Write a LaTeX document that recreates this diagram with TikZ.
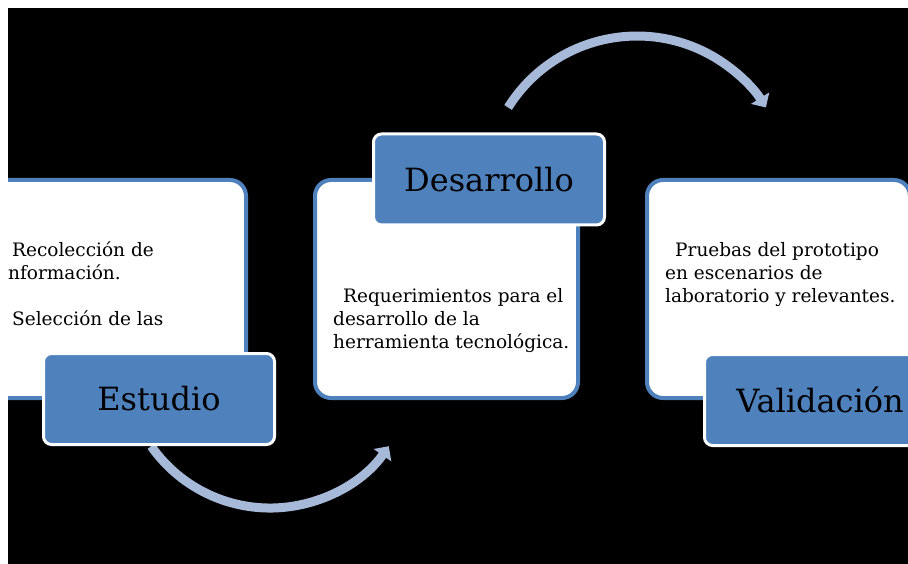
\documentclass[tikz,border=0pt]{standalone}
\usepackage{fontspec}
\setmainfont{DejaVu Serif}
\usepackage{xcolor}
\usepackage{tikz}
\usetikzlibrary{arrows.meta, positioning}
\definecolor{stageblue}{RGB}{79,129,189}
\definecolor{arcblue}{RGB}{167,185,216}

\begin{document}
\begin{tikzpicture}[
    x=1pt, y=-1pt,
    panel/.style={rectangle, rounded corners=16pt, draw=stageblue, fill=white, line width=4pt, minimum width=263pt, minimum height=218pt},
    stage/.style={rectangle, rounded corners=8pt, draw=white, fill=stageblue, line width=3pt, minimum width=231pt, minimum height=91pt, font=\fontsize{32}{38}\selectfont},
    detail/.style={anchor=base west, inner sep=0pt, align=left, font=\fontsize{18.5}{23}\selectfont},
    turn/.style={arcblue, line width=9pt, -{Triangle[length=11pt, width=21pt]}}
]

% Background
\fill[white] (0,0) rectangle (908,564);
\useasboundingbox (0,0) rectangle (908,564);
\fill[black] (8,8) rectangle (908,564);

\begin{scope}
\clip (8,8) rectangle (908,564);

% Curved arrows
\coordinate (lowStart) at (151.2,446.2);
\coordinate (highStart) at (508.1,107.5);
\draw[turn] (lowStart) arc[start angle=145, end angle=35, radius=145];
\draw[turn] (highStart) arc[start angle=-148, end angle=-32, radius=152];

% White panels
\node[panel] (estudioPanel) at (114.5,289) {};
\node[panel] (desarrolloPanel) at (446.5,289) {};
\node[panel] (validacionPanel) at (778.5,289) {};

% Panel texts (anchored on the last line)
\node[detail] (estudioText) at (8,325) {\hspace{4pt}Recolección de\\nformación.\\[23pt]\hspace{4pt}Selección de las};
\node[detail] (desarrolloText) at (333,348) {\hspace{10pt}Requerimientos para el\\desarrollo de la\\herramienta tecnológica.};
\node[detail] (validacionText) at (665,302) {\hspace{10pt}Pruebas del prototipo\\en escenarios de\\laboratorio y relevantes.};

% Stage labels
\node[stage] (estudio) at (159,399) {Estudio};
\node[stage] (desarrollo) at (489,179.5) {Desarrollo};
\node[stage] (validacion) at (820,400) {Validación};

\end{scope}
\end{tikzpicture}
\end{document}
